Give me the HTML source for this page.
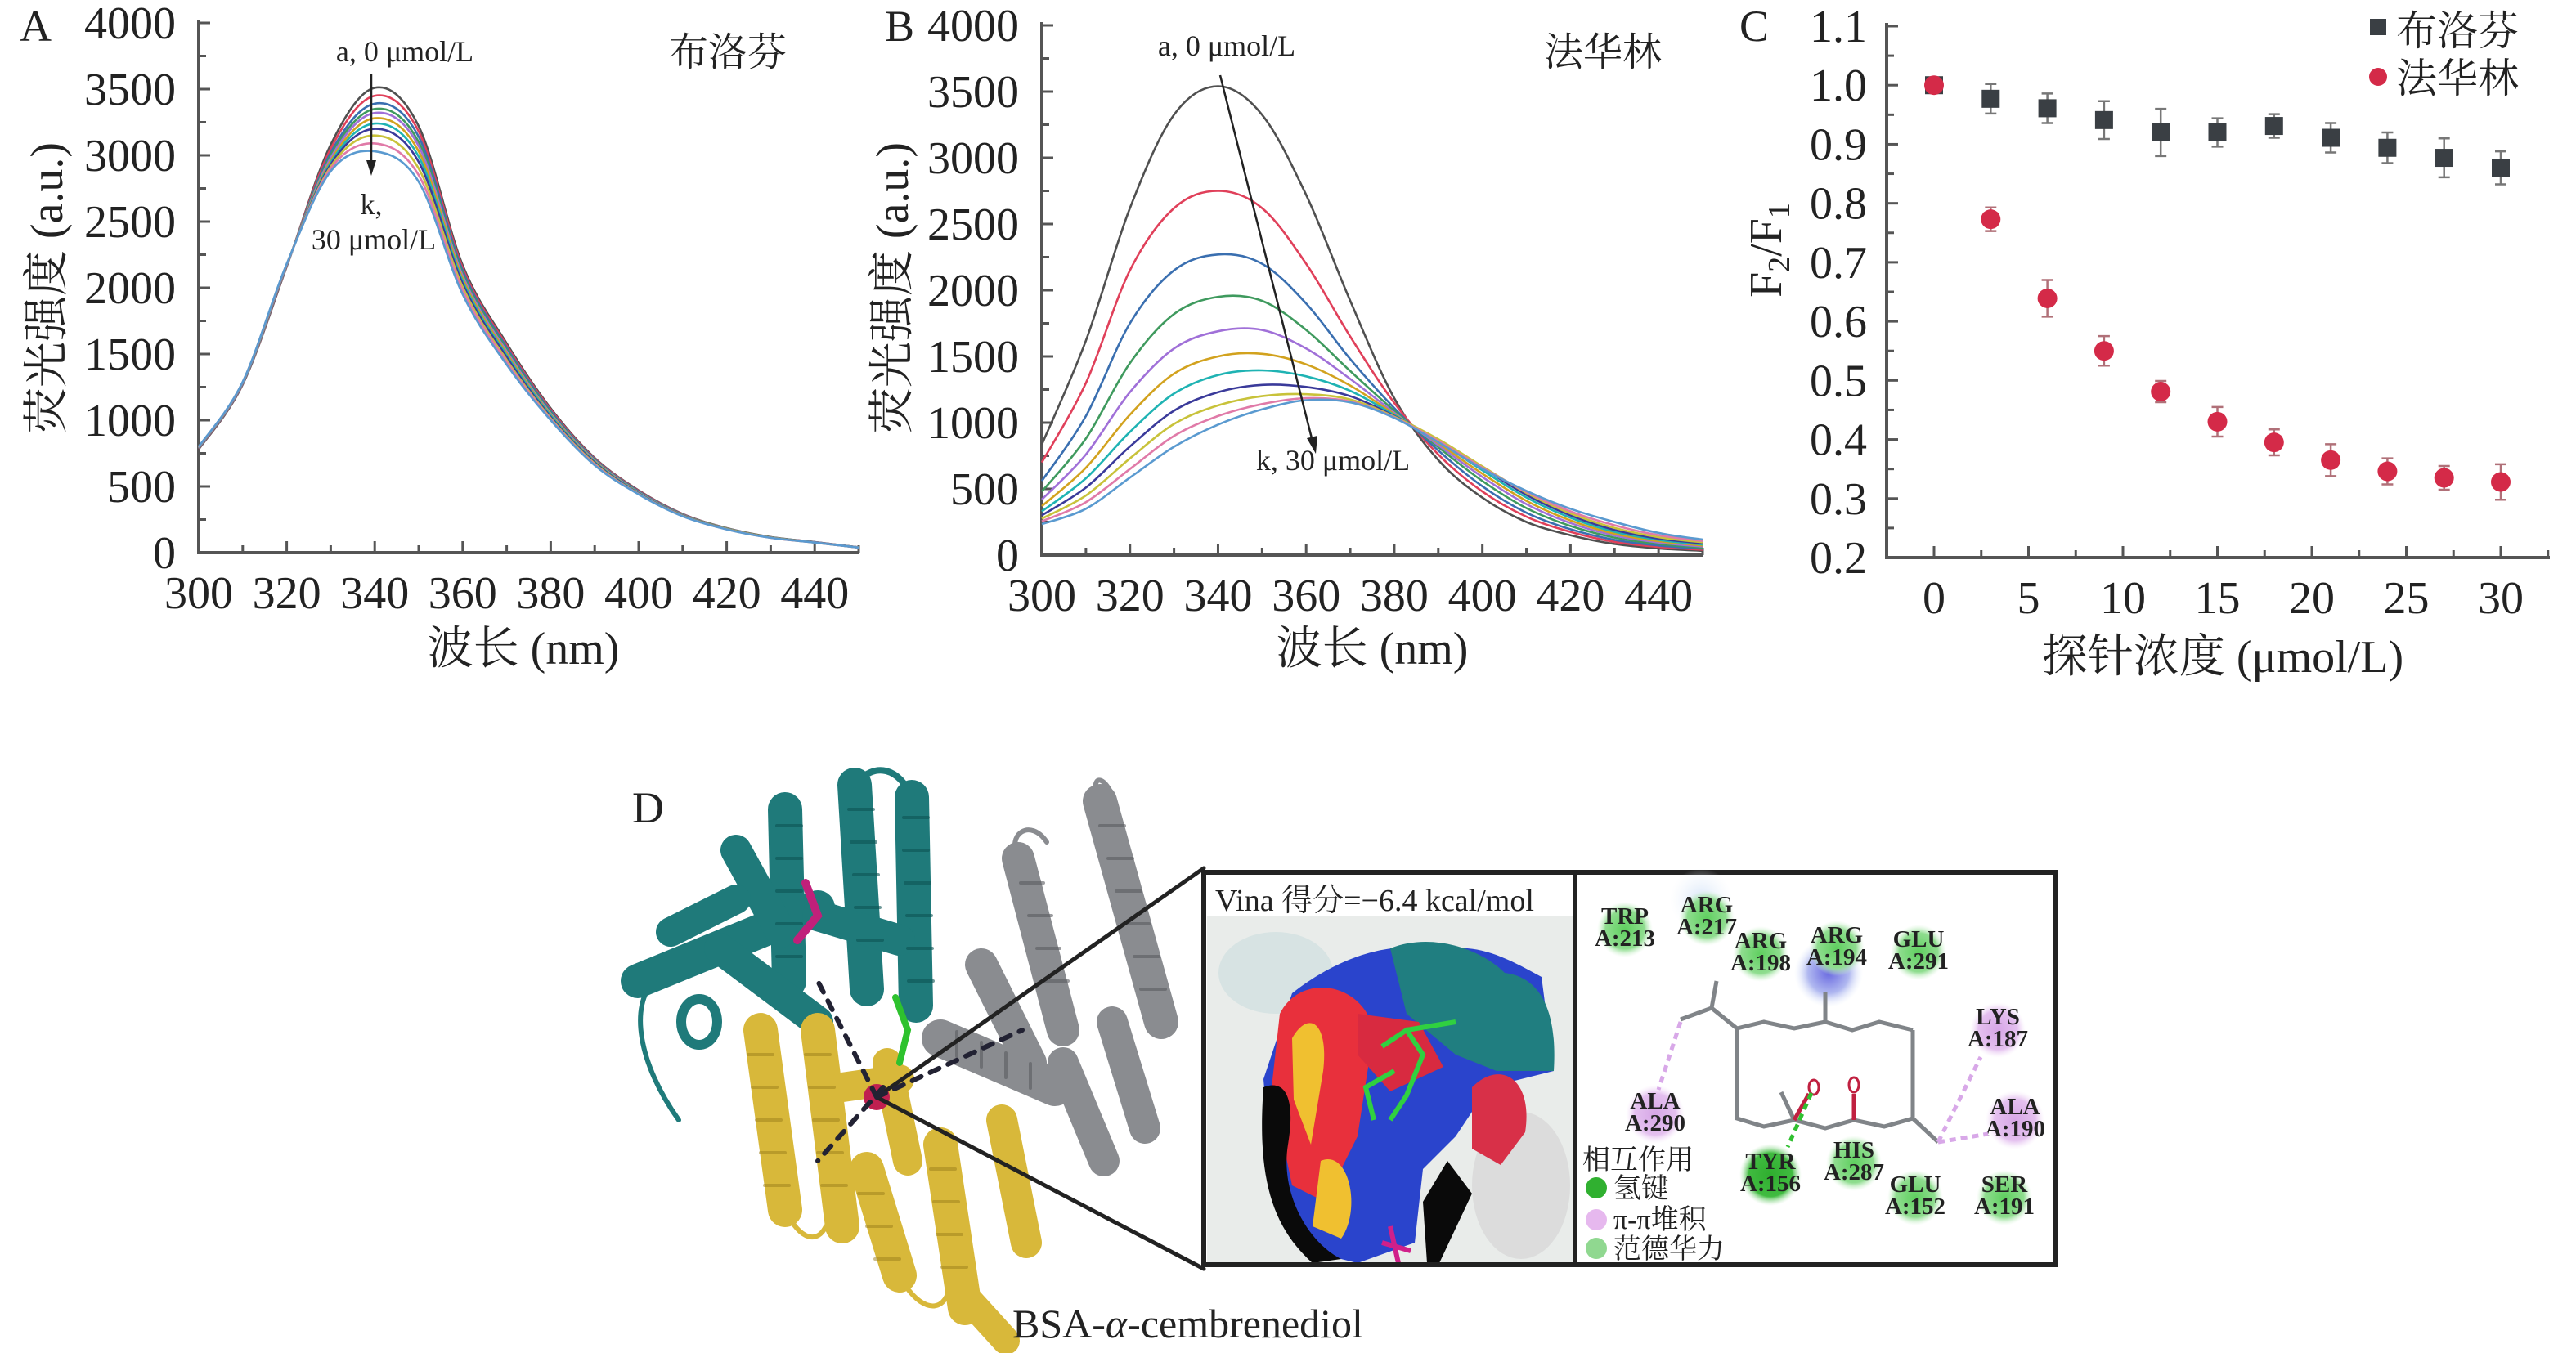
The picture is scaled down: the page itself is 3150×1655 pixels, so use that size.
<!DOCTYPE html>
<html><head><meta charset="utf-8">
<style>
html,body{margin:0;padding:0;background:#fff;}
body{position:relative;width:3150px;height:1655px;overflow:hidden;}
svg{display:block;}
text{font-family:"Liberation Serif","Noto Serif CJK SC","Noto Sans CJK SC",serif;fill:#222;}
</style></head>
<body>
<svg id="fig" width="3150" height="1655" viewBox="0 0 3150 1655" xmlns="http://www.w3.org/2000/svg">
<defs>
<radialGradient id="gG"><stop offset="0" stop-color="#5fcf5f"/><stop offset="0.7" stop-color="#8fdd8f"/><stop offset="1" stop-color="#d8f4d8" stop-opacity="0"/></radialGradient>
<radialGradient id="gD"><stop offset="0" stop-color="#2fae2f"/><stop offset="0.7" stop-color="#40bb40"/><stop offset="1" stop-color="#bfeabf" stop-opacity="0"/></radialGradient>
<radialGradient id="gP"><stop offset="0" stop-color="#d6a6e6"/><stop offset="0.7" stop-color="#e4c0ef"/><stop offset="1" stop-color="#f6e8fa" stop-opacity="0"/></radialGradient>
<radialGradient id="gB"><stop offset="0" stop-color="#6a6ae0"/><stop offset="0.6" stop-color="#b0b8f0"/><stop offset="1" stop-color="#e6eefc" stop-opacity="0"/></radialGradient>
<radialGradient id="gL"><stop offset="0" stop-color="#d8e6f8"/><stop offset="1" stop-color="#eef4fc" stop-opacity="0"/></radialGradient>
</defs>
<g id="panelA"></g>
<g id="panelB"></g>
<g id="panelC"></g>
</svg>
<script>
const wlA = [300,310,320,330,340,350,360,370,380,390,400,410,420,430,440,450];
const seriesA = [
 [780,1270,2160,3080,3510,3220,2170,1580,1090,715,470,292,185,118,80,40],
 [785,1275,2165,3050,3450,3180,2150,1565,1080,710,466,290,184,117,79,40],
 [788,1278,2168,3020,3390,3140,2130,1550,1070,705,462,288,183,116,79,40],
 [790,1280,2170,3000,3350,3100,2110,1535,1060,700,458,286,182,116,78,39],
 [792,1282,2172,2980,3320,3070,2090,1520,1050,695,455,284,181,115,78,39],
 [794,1284,2174,2960,3280,3030,2070,1505,1042,690,452,283,180,115,77,39],
 [795,1285,2175,2945,3240,2990,2050,1490,1035,685,450,281,179,114,77,39],
 [796,1286,2176,2930,3200,2950,2030,1475,1025,680,447,280,178,114,77,38],
 [797,1287,2177,2915,3150,2900,2005,1455,1015,672,444,278,177,113,76,38],
 [798,1288,2178,2900,3090,2850,1980,1440,1008,666,442,276,176,112,76,38],
 [800,1290,2180,2880,3030,2800,1950,1420,1000,660,440,275,175,112,76,38]
];
const wlB = [300,310,320,330,340,350,360,370,380,390,400,410,420,430,440,450];
const seriesB = [
 [835,1620,2620,3325,3540,3325,2720,1920,1185,718,434,250,150,84,50,33],
 [700,1300,2150,2620,2750,2620,2200,1650,1150,760,480,290,175,100,62,40],
 [560,1050,1750,2150,2270,2200,1900,1480,1110,790,520,320,195,115,72,48],
 [480,880,1450,1820,1950,1920,1700,1390,1090,815,560,355,220,132,84,56],
 [420,760,1230,1560,1690,1700,1560,1330,1075,830,590,385,242,148,95,64],
 [370,660,1060,1370,1500,1520,1440,1280,1065,845,615,410,262,162,105,72],
 [330,580,930,1220,1360,1395,1350,1240,1058,860,640,435,282,176,115,80],
 [300,510,820,1090,1230,1285,1270,1200,1050,870,660,455,300,190,125,88],
 [275,450,730,990,1130,1200,1215,1175,1045,875,670,470,315,205,135,96],
 [255,400,650,900,1050,1140,1185,1160,1040,862,660,478,330,225,150,106],
 [234,350,585,818,985,1100,1170,1153,1036,852,652,485,350,250,167,117]
];
const colorsAB = ['#505050','#e0405a','#3a6fb0','#3f9a5e','#a070d8','#d2a21e','#1fb3b3','#3a3a9a','#c8c23a','#e07aa8','#5a9ad0'];
const concC = [0,3,6,9,12,15,18,21,24,27,30];
const ibuVals = [1.0,0.977,0.961,0.941,0.920,0.920,0.931,0.911,0.894,0.877,0.860];
const ibuErr  = [0.005,0.025,0.025,0.032,0.040,0.024,0.020,0.025,0.026,0.033,0.028];
const warVals = [1.0,0.773,0.639,0.550,0.481,0.430,0.395,0.365,0.346,0.335,0.328];
const warErr  = [0.006,0.020,0.031,0.025,0.018,0.025,0.022,0.027,0.022,0.020,0.030];
const ticksAB_y = [0,500,1000,1500,2000,2500,3000,3500,4000];
const ticksAB_x = [300,320,340,360,380,400,420,440];
const ticksC_y = [0.2,0.3,0.4,0.5,0.6,0.7,0.8,0.9,1.0,1.1];
const ticksC_x = [0,5,10,15,20,25,30];

const NS='http://www.w3.org/2000/svg';
function mk(parent,tag,attrs,txt){const e=document.createElementNS(NS,tag);for(const k in attrs)e.setAttribute(k,attrs[k]);if(txt!==undefined)e.textContent=txt;parent.appendChild(e);return e;}
function smooth(pts){let d='M'+pts[0][0]+','+pts[0][1];for(let i=0;i<pts.length-1;i++){const p0=pts[i-1]||pts[i],p1=pts[i],p2=pts[i+1],p3=pts[i+2]||p2;const c1=[p1[0]+(p2[0]-p0[0])/6,p1[1]+(p2[1]-p0[1])/6],c2=[p2[0]-(p3[0]-p1[0])/6,p2[1]-(p3[1]-p1[1])/6];d+=' C'+c1[0].toFixed(1)+','+c1[1].toFixed(1)+' '+c2[0].toFixed(1)+','+c2[1].toFixed(1)+' '+p2[0].toFixed(1)+','+p2[1].toFixed(1);}return d;}

function spectrum(g,o){
 const sx=v=>o.x0+(v-300)/150*(o.x1-o.x0);
 const sy=v=>o.y0-(v/4000)*(o.y0-o.y4);
 const ax=mk(g,'path',{d:`M${o.x0},${o.y4-4} L${o.x0},${o.y0} L${o.x1},${o.y0}`,fill:'none',stroke:'#555','stroke-width':4});
 
 
 for(let v=0;v<=4000;v+=250){const y=sy(v);const big=v%500===0;mk(g,'line',{x1:o.x0,y1:y,x2:o.x0+(big?14:9),y2:y,stroke:'#555','stroke-width':3});}
 for(let v=300;v<=450;v+=10){const x=sx(v);const big=v%20===0;mk(g,'line',{x1:x,y1:o.y0,x2:x,y2:o.y0-(big?14:9),stroke:'#555','stroke-width':3});}
 ticksAB_y.forEach(v=>{const t=mk(g,'text',{x:o.x0-28,y:sy(v)+19,'text-anchor':'end','font-size':56},String(v));
  
  });
 ticksAB_x.forEach(v=>{const t=mk(g,'text',{x:sx(v),y:o.y0+68,'text-anchor':'middle','font-size':56},String(v));
  
  });
 o.series.forEach((s,i)=>{const pts=o.wl.map((w,j)=>[sx(w),sy(s[j])]);
  const p=mk(g,'path',{d:smooth(pts),fill:'none',stroke:colorsAB[i],'stroke-width':2.6});
  
  });
}
spectrum(document.getElementById('panelA'),{x0:243,x1:1050,y0:676,y4:28,wl:wlA,series:seriesA});
spectrum(document.getElementById('panelB'),{x0:1274,x1:2082,y0:679,y4:31,wl:wlB,series:seriesB});

const gC=document.getElementById('panelC');
const cx=v=>2365+v/30*(3058-2365);
const cy=v=>682-(v-0.2)/0.9*(682-32);
const cax=mk(gC,'path',{d:`M2307,28 L2307,682 L3118,682`,fill:'none',stroke:'#555','stroke-width':4});


for(let k=0;k<=18;k++){const y=682-k*(650/18);mk(gC,'line',{x1:2307,y1:y,x2:2307+(k%2===0?14:9),y2:y,stroke:'#555','stroke-width':3});}
for(let k=-1;k<=13;k++){const v=k*2.5;const x=cx(v);if(x<2310)continue;mk(gC,'line',{x1:x,y1:682,x2:x,y2:682-(k%2===0?14:9),stroke:'#555','stroke-width':3});}
ticksC_y.forEach(v=>{const t=mk(gC,'text',{x:2283,y:cy(v)+19,'text-anchor':'end','font-size':56},v.toFixed(1));
 
 });
ticksC_x.forEach(v=>{const t=mk(gC,'text',{x:cx(v),y:750,'text-anchor':'middle','font-size':56},String(v));
 
 });
concC.forEach((c,i)=>{const x=cx(c);
 mk(gC,'path',{d:`M${x},${cy(ibuVals[i]+ibuErr[i])} V${cy(ibuVals[i]-ibuErr[i])} M${x-7},${cy(ibuVals[i]+ibuErr[i])} h14 M${x-7},${cy(ibuVals[i]-ibuErr[i])} h14`,stroke:'#777','stroke-width':2.5,fill:'none'});
 const r=mk(gC,'rect',{x:x-11,y:cy(ibuVals[i])-11,width:22,height:22,fill:'#3a3f44'});
 
 
});
concC.forEach((c,i)=>{const x=cx(c);
 mk(gC,'path',{d:`M${x},${cy(warVals[i]+warErr[i])} V${cy(warVals[i]-warErr[i])} M${x-7},${cy(warVals[i]+warErr[i])} h14 M${x-7},${cy(warVals[i]-warErr[i])} h14`,stroke:'#b07078','stroke-width':2.5,fill:'none'});
 const p=mk(gC,'circle',{cx:x,cy:cy(warVals[i]),r:12,fill:'#d42a48'});
 
 
});
</script>

<svg style="position:absolute;left:0;top:0" width="3150" height="1655" viewBox="0 0 3150 1655" xmlns="http://www.w3.org/2000/svg">
<text x="24" y="50" font-size="54">A</text>
<text x="1082" y="50" font-size="54">B</text>
<text x="2127" y="50" font-size="54">C</text>
<text x="773" y="1006" font-size="54">D</text>
<text x="640" y="812" font-size="56" text-anchor="middle">波长 (nm)</text>
<text x="1678" y="812" font-size="56" text-anchor="middle">波长 (nm)</text>
<text x="2718" y="822" font-size="56" text-anchor="middle">探针浓度 (μmol/L)</text>
<text transform="translate(76,352) rotate(-90)" font-size="56" text-anchor="middle">荧光强度 (a.u.)</text>
<text transform="translate(1110,352) rotate(-90)" font-size="56" text-anchor="middle">荧光强度 (a.u.)</text>
<text transform="translate(2178,306) rotate(-90)" font-size="56" text-anchor="middle">F<tspan font-size="38" dy="10">2</tspan><tspan dy="-10">/F</tspan><tspan font-size="38" dy="10">1</tspan></text>
<text x="495" y="75" font-size="36" text-anchor="middle">a, 0 μmol/L</text>
<line x1="454" y1="90" x2="454" y2="200" stroke="#222" stroke-width="2.5"/>
<path d="M448,196 L460,196 L454,215 Z" fill="#222"/>
<text x="454" y="262" font-size="36" text-anchor="middle">k,</text>
<text x="457" y="305" font-size="36" text-anchor="middle">30 μmol/L</text>
<text x="890" y="80" font-size="48" text-anchor="middle">布洛芬</text>
<text x="1500" y="68" font-size="36" text-anchor="middle">a, 0 μmol/L</text>
<line x1="1492" y1="92" x2="1605" y2="540" stroke="#222" stroke-width="2.5"/>
<path d="M1598,536 L1611,533 L1609,555 Z" fill="#222"/>
<text x="1630" y="575" font-size="36" text-anchor="middle">k, 30 μmol/L</text>
<text x="1960" y="80" font-size="48" text-anchor="middle">法华林</text>
<g>
<rect x="2898" y="23" width="20" height="20" fill="#3a3f44"/>
<text x="2930" y="55" font-size="50">布洛芬</text>
<circle cx="2908" cy="94" r="11" fill="#d42a48"/>
<text x="2930" y="113" font-size="50">法华林</text>
</g>

<g stroke-linecap="round" fill="none">
 <g stroke="#1f7a7a">
  <path d="M780,1200 L1000,1110" stroke-width="42"/>
  <path d="M960,990 L965,1200" stroke-width="42"/>
  <path d="M1045,960 L1060,1210" stroke-width="42"/>
  <path d="M1115,975 L1120,1230" stroke-width="42"/>
  <path d="M880,1160 L1000,1250" stroke-width="38"/>
  <path d="M1000,1120 L1100,1150" stroke-width="38"/>
  <path d="M900,1040 L955,1140" stroke-width="38"/>
  <path d="M820,1140 L900,1100" stroke-width="36"/>
  <ellipse cx="855" cy="1250" rx="22" ry="28" stroke-width="12"/>
  <path d="M800,1200 C770,1230 780,1300 830,1370" stroke-width="6"/>
  <path d="M1045,960 C1070,930 1100,940 1115,975" stroke-width="8"/>
 </g>
 <g stroke="#0e5454" stroke-width="4" opacity="0.6">
  <path d="M950,1010 h30 M950,1050 h30 M950,1090 h30 M950,1130 h30 M950,1170 h30 M1038,990 h30 M1041,1030 h30 M1044,1070 h30 M1046,1110 h30 M1049,1150 h30 M1105,1000 h30 M1105,1040 h30 M1107,1080 h30 M1109,1120 h30 M1110,1160 h30 M1111,1200 h30"/>
 </g>
 <path d="M985,1080 L1000,1120 L975,1150" stroke="#c0207a" stroke-width="10"/>
 <g stroke="#8a8c90">
  <path d="M1345,980 L1420,1250" stroke-width="42"/>
  <path d="M1245,1050 L1300,1260" stroke-width="40"/>
  <path d="M1150,1270 L1290,1330" stroke-width="46"/>
  <path d="M1200,1180 L1260,1300" stroke-width="40"/>
  <path d="M1300,1300 L1350,1420" stroke-width="38"/>
  <path d="M1360,1250 L1400,1380" stroke-width="38"/>
  <path d="M1345,980 C1330,950 1350,940 1365,985" stroke-width="6"/>
  <path d="M1245,1050 C1230,1020 1260,1000 1280,1030" stroke-width="6"/>
 </g>
 <g stroke="#5a5c60" stroke-width="4" opacity="0.6">
  <path d="M1345,1010 h30 M1355,1050 h30 M1365,1090 h30 M1375,1130 h30 M1387,1170 h30 M1395,1210 h30 M1248,1080 h28 M1258,1120 h28 M1268,1160 h28 M1278,1200 h28 M1170,1262 v30 M1200,1275 v30 M1230,1288 v30 M1260,1301 v30"/>
 </g>
 <g stroke="#d8b83a">
  <path d="M930,1260 L960,1480" stroke-width="42"/>
  <path d="M1000,1260 L1030,1500" stroke-width="42"/>
  <path d="M1060,1430 L1100,1560" stroke-width="42"/>
  <path d="M1150,1400 L1180,1600" stroke-width="42"/>
  <path d="M1225,1370 L1255,1520" stroke-width="38"/>
  <path d="M1030,1330 L1100,1320" stroke-width="36"/>
  <path d="M1180,1585 L1230,1640" stroke-width="34"/>
  <path d="M1085,1300 L1110,1420" stroke-width="36"/>
  <path d="M960,1480 C980,1520 1000,1520 1010,1500" stroke-width="6"/>
  <path d="M1100,1560 C1120,1600 1150,1610 1160,1580" stroke-width="6"/>
 </g>
 <g stroke="#9a7e1a" stroke-width="4" opacity="0.5">
  <path d="M915,1290 h30 M920,1330 h30 M925,1370 h30 M930,1410 h30 M935,1450 h30 M985,1290 h30 M990,1330 h30 M995,1370 h30 M1000,1410 h30 M1005,1450 h30 M1138,1430 h30 M1142,1470 h30 M1146,1510 h30 M1152,1550 h30 M1050,1460 h30 M1060,1500 h30 M1070,1540 h30"/>
 </g>
 <path d="M1095,1220 L1110,1260 L1100,1300" stroke="#2ec22e" stroke-width="8"/>
 <circle cx="1072" cy="1342" r="16" fill="#c02050" stroke="none"/>
 <path d="M1072,1342 L1472,1062 M1072,1342 L1472,1552" stroke="#222" stroke-width="5"/>
 <path d="M1072,1342 L1000,1200 M1072,1342 L1250,1260 M1080,1330 L1000,1420" stroke="#223" stroke-width="6" stroke-dasharray="12 12"/>
</g>
<text x="1238" y="1636" font-size="50">BSA-<tspan font-style="italic">α</tspan>-cembrenediol</text>

<g>
 <rect x="1476" y="1120" width="448" height="425" fill="#e9ecea"/>
 <g>
  <ellipse cx="1560" cy="1190" rx="70" ry="50" fill="#cfe0df" opacity="0.7"/>
  <ellipse cx="1860" cy="1450" rx="60" ry="90" fill="#d8d8d8" opacity="0.8"/>
  <path d="M1580,1215 C1650,1160 1720,1150 1760,1165 C1800,1150 1840,1170 1885,1195 L1900,1310 L1820,1330 L1780,1390 L1740,1430 L1730,1520 L1660,1545 L1600,1530 L1555,1440 L1545,1320 Z" fill="#2a44cc"/>
  <path d="M1700,1160 C1750,1140 1810,1160 1840,1190 C1880,1195 1905,1230 1900,1310 L1830,1310 L1780,1290 L1720,1240 Z" fill="#207e80"/>
  <path d="M1565,1240 C1590,1190 1665,1200 1680,1260 L1660,1390 L1620,1470 L1580,1450 L1555,1330 Z" fill="#e8303c"/>
  <path d="M1580,1270 C1600,1235 1625,1250 1618,1310 L1603,1400 L1582,1345 Z" fill="#f0c030"/>
  <path d="M1615,1420 C1650,1405 1665,1480 1640,1515 L1605,1500 Z" fill="#f0c030"/>
  <path d="M1660,1240 L1735,1250 L1765,1305 L1700,1335 L1660,1290 Z" fill="#d82a40"/>
  <path d="M1800,1330 C1835,1295 1875,1320 1865,1385 L1835,1425 L1800,1405 Z" fill="#d83048"/>
  <path d="M1545,1330 C1570,1320 1585,1340 1575,1400 C1565,1460 1600,1520 1640,1540 L1605,1545 C1555,1500 1537,1440 1545,1330 Z" fill="#0a0a0a"/>
  <path d="M1740,1470 L1770,1420 L1800,1460 L1760,1545 L1745,1545 Z" fill="#0a0a0a"/>
  <path d="M1690,1280 L1720,1260 L1740,1290 L1720,1340 L1700,1370 M1705,1310 L1670,1330 L1680,1370 M1720,1260 L1780,1250" stroke="#30d040" stroke-width="6" fill="none"/>
  <path d="M1700,1500 L1710,1545 M1690,1520 L1725,1530" stroke="#d0208a" stroke-width="6" fill="none"/>
 </g>
 <text x="1486" y="1114" font-size="38">Vina 得分=−6.4 kcal/mol</text>
 <rect x="1472" y="1067" width="1042" height="480" fill="none" stroke="#222" stroke-width="6"/>
 <line x1="1926" y1="1067" x2="1926" y2="1547" stroke="#222" stroke-width="5"/>
</g>

<g>
 <circle cx="2080" cy="1100" r="38" fill="url(#gL)"/>
 <circle cx="2236" cy="1190" r="42" fill="url(#gB)"/>
 <g text-anchor="middle" font-weight="bold" fill="#3a3a3a">
  <g><circle cx="1987" cy="1137" r="34" fill="url(#gG)"/><text x="1987" y="1130" font-size="29">TRP</text><text x="1987" y="1157" font-size="29">A:213</text></g>
  <g><circle cx="2087" cy="1123" r="34" fill="url(#gG)"/><text x="2087" y="1116" font-size="29">ARG</text><text x="2087" y="1143" font-size="29">A:217</text></g>
  <g><circle cx="2153" cy="1167" r="34" fill="url(#gG)"/><text x="2153" y="1160" font-size="29">ARG</text><text x="2153" y="1187" font-size="29">A:198</text></g>
  <g><circle cx="2246" cy="1160" r="34" fill="url(#gG)"/><text x="2246" y="1153" font-size="29">ARG</text><text x="2246" y="1180" font-size="29">A:194</text></g>
  <g><circle cx="2346" cy="1165" r="34" fill="url(#gG)"/><text x="2346" y="1158" font-size="29">GLU</text><text x="2346" y="1185" font-size="29">A:291</text></g>
  <g><circle cx="2443" cy="1260" r="34" fill="url(#gP)"/><text x="2443" y="1253" font-size="29">LYS</text><text x="2443" y="1280" font-size="29">A:187</text></g>
  <g><circle cx="2024" cy="1363" r="36" fill="url(#gP)"/><text x="2024" y="1356" font-size="29">ALA</text><text x="2024" y="1383" font-size="29">A:290</text></g>
  <g><circle cx="2464" cy="1370" r="36" fill="url(#gP)"/><text x="2464" y="1363" font-size="29">ALA</text><text x="2464" y="1390" font-size="29">A:190</text></g>
  <g><circle cx="2165" cy="1437" r="38" fill="url(#gD)"/><text x="2165" y="1430" font-size="29">TYR</text><text x="2165" y="1457" font-size="29">A:156</text></g>
  <g><circle cx="2267" cy="1423" r="34" fill="url(#gG)"/><text x="2267" y="1416" font-size="29">HIS</text><text x="2267" y="1443" font-size="29">A:287</text></g>
  <g><circle cx="2342" cy="1465" r="34" fill="url(#gG)"/><text x="2342" y="1458" font-size="29">GLU</text><text x="2342" y="1485" font-size="29">A:152</text></g>
  <g><circle cx="2451" cy="1465" r="34" fill="url(#gG)"/><text x="2451" y="1458" font-size="29">SER</text><text x="2451" y="1485" font-size="29">A:191</text></g>
 </g>
 <g fill="none" stroke="#808488" stroke-width="5">
  <path d="M2099,1200 L2093,1233 L2055,1247 M2093,1233 L2124,1258"/>
  <path d="M2124,1258 L2157,1250 L2194,1258 L2232,1250 L2265,1260 L2298,1250 L2339,1260"/>
  <path d="M2232,1250 L2232,1213"/>
  <path d="M2124,1258 L2124,1368 L2157,1378 L2194,1370 L2232,1380 L2267,1370 L2304,1378 L2339,1368 L2339,1260"/>
  <path d="M2339,1368 L2370,1397"/>
  <path d="M2194,1370 L2178,1336"/>
  <path d="M2194,1370 L2212,1338 M2267,1370 L2267,1338" stroke="#c02040"/>
 </g>
 <ellipse cx="2218" cy="1330" rx="6" ry="9" fill="none" stroke="#c02040" stroke-width="3"/>
 <ellipse cx="2267" cy="1327" rx="6" ry="9" fill="none" stroke="#c02040" stroke-width="3"/>
 <path d="M2215,1337 L2186,1403" stroke="#30c030" stroke-width="5" stroke-dasharray="8 6"/>
 <path d="M2055,1250 L2028,1333 M2370,1397 L2422,1293 M2370,1397 L2431,1387" stroke="#d8a8e8" stroke-width="5" stroke-dasharray="8 6"/>
 <g>
  <text x="1935" y="1430" font-size="34">相互作用</text>
  <circle cx="1952" cy="1453" r="13" fill="#30b030"/><text x="1973" y="1465" font-size="34">氢键</text>
  <circle cx="1952" cy="1492" r="13" fill="#e6b8ee"/><text x="1973" y="1503" font-size="34">π-π堆积</text>
  <circle cx="1952" cy="1527" r="13" fill="#90d890"/><text x="1973" y="1539" font-size="34">范德华力</text>
 </g>
</g>
</svg>
</body></html>
